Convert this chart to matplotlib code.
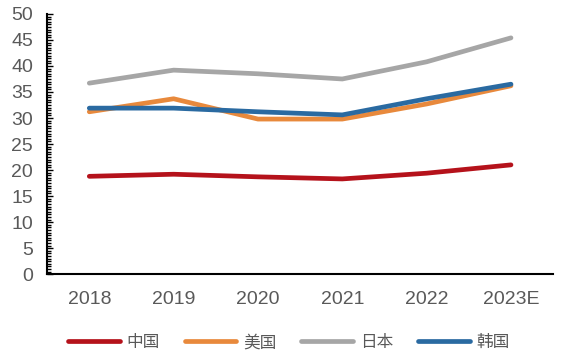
import numpy as np
import matplotlib.pyplot as plt
from matplotlib.ticker import MultipleLocator

plt.rcParams['font.family'] = ['Liberation Sans', 'Noto Sans CJK SC', 'DejaVu Sans']

years = ["2018", "2019", "2020", "2021", "2022", "2023E"]
china = [18.8, 19.2, 18.7, 18.3, 19.4, 21.0]
usa = [31.2, 33.7, 29.8, 29.8, 32.7, 36.2]
japan = [36.7, 39.2, 38.5, 37.5, 40.8, 45.4]
korea = [31.9, 31.9, 31.2, 30.6, 33.7, 36.5]
names = ["中国", "美国", "日本", "韩国"]
colors = ["#B5121B", "#E8893C", "#A6A6A6", "#2A6AA1"]

fig = plt.figure(figsize=(5.61, 3.57), dpi=100)
ax = fig.add_axes([0.084, 0.232, 0.902, 0.729])

x = np.arange(len(years))
for vals, name, c in zip([china, usa, japan, korea], names, colors):
    ax.plot(x, vals, color=c, lw=3.4, label=name, solid_capstyle="round",
            solid_joinstyle="round")

ax.set_xlim(-0.5, len(years) - 0.5)
ax.set_ylim(0, 50)
ax.set_xticks(x)
ax.set_xticklabels(years)
ax.yaxis.set_major_locator(MultipleLocator(5))
ax.yaxis.set_minor_locator(MultipleLocator(0.5))
ax.tick_params(axis="y", which="major", direction="in", length=4, width=1,
               labelsize=14, labelcolor="#595959", pad=10)
ax.tick_params(axis="y", which="minor", direction="in", length=3, width=1)
ax.tick_params(axis="x", length=0, labelsize=14, labelcolor="#595959", pad=12)

for s in ["top", "right"]:
    ax.spines[s].set_visible(False)
ax.spines["left"].set_linewidth(1.5)
ax.spines["bottom"].set_linewidth(1.5)

leg = fig.legend(loc="center", bbox_to_anchor=(0.515, 0.04), ncol=4, frameon=False,
                 handlelength=3.1, handletextpad=0.4, columnspacing=1.5,
                 prop={"family": ["Noto Sans CJK SC"], "size": 12})
for t in leg.get_texts():
    t.set_color("#595959")

fig.savefig("out.png", dpi=100)
